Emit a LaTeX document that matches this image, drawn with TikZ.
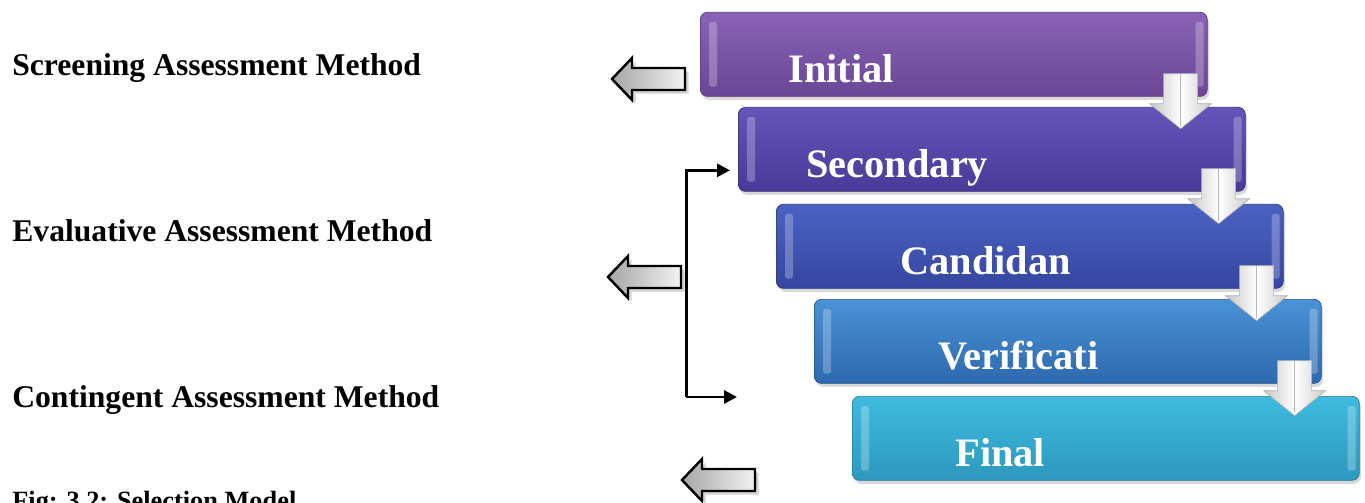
\documentclass[tikz,border=0pt]{standalone}
\usepackage{fontspec}
\setmainfont{Liberation Serif}
\usepackage{tikz}
\usetikzlibrary{arrows.meta,shadows}
\definecolor{initop}{HTML}{8A63B6}
\definecolor{inibot}{HTML}{6A4695}
\definecolor{sectop}{HTML}{6654BA}
\definecolor{secbot}{HTML}{493A98}
\definecolor{cantop}{HTML}{4B62C2}
\definecolor{canbot}{HTML}{3646A0}
\definecolor{vertop}{HTML}{4A92D6}
\definecolor{verbot}{HTML}{2E69AE}
\definecolor{fintop}{HTML}{3EBBDE}
\definecolor{finbot}{HTML}{2D98BE}

\begin{document}
\begin{tikzpicture}[x=0.02cm, y=-0.02cm,
  stage/.style={anchor=north west, rounded corners=4pt, minimum width=10.14cm,
                minimum height=1.68cm, text width=10.14cm, align=left, inner xsep=0pt,
                inner ysep=0pt, text height=1.12cm, text depth=0pt, text=white,
                font=\fontsize{23}{27}\selectfont\bfseries,
                drop shadow={shadow xshift=1pt, shadow yshift=-2pt, opacity=.3}},
  method/.style={anchor=base west, inner sep=0pt, font=\fontsize{18}{22}\selectfont\bfseries},
  gloss/.style={fill=white, opacity=.25, rounded corners=1pt},
  leftarr/.style={draw=black, line width=1.4pt, left color=gray!70, right color=gray!10,
                  drop shadow={shadow xshift=2pt, shadow yshift=-2pt, opacity=.35}},
  downarr/.style={draw=gray!60, left color=gray!45, right color=gray!40, middle color=white},
  brk/.style={line width=1.7pt, -{Triangle[length=2.6mm, width=2.6mm]}}]
  \useasboundingbox (0,0) rectangle (1365,503);

  % left column
  \node[method] (scr) at (12,76) {Screening Assessment Method};
  \node[method] (eva) at (12,241) {Evaluative Assessment Method};
  \node[method] (con) at (12,407) {Contingent Assessment Method};
  \node[method, font=\fontsize{15}{18}\selectfont\bfseries] (cap) at (12,509)
    {Fig: 3.2: Selection Model};

  % stages
  \node[stage, top color=initop, bottom color=inibot, draw=inibot!80!black] (ini) at (700,12)
    {\hspace*{1.76cm}Initial};
  \node[stage, top color=sectop, bottom color=secbot, draw=secbot!80!black] (sec) at (738,107)
    {\hspace*{1.36cm}Secondary};
  \node[stage, top color=cantop, bottom color=canbot, draw=canbot!80!black] (can) at (776,204)
    {\hspace*{2.48cm}Candidan};
  \node[stage, top color=vertop, bottom color=verbot, draw=verbot!80!black] (ver) at (814,299)
    {\hspace*{2.48cm}Verificati};
  \node[stage, top color=fintop, bottom color=finbot, draw=finbot!80!black] (fin) at (852,396)
    {\hspace*{2.06cm}Final};

  \foreach \b in {ini,sec,can,ver,fin} {
    \fill[gloss] ([shift={(9,10)}]\b.north west) rectangle ([shift={(17,-10)}]\b.south west);
    \fill[gloss] ([shift={(-12,10)}]\b.north east) rectangle ([shift={(-4,-10)}]\b.south east);
  }

  % down arrows between stages
  \foreach \b in {ini,sec,can,ver} {
    \path ([shift={(-27,-23)}]\b.south east) coordinate (t);
    \draw[downarr] (t) ++(-17,0) -- ++(34,0) -- ++(0,30) -- ++(14,0) -- ++(-31,25)
      -- ++(-31,-25) -- ++(14,0) -- cycle;
    \draw[gray!55, line width=0.6pt] (t) -- ++(0,52);
  }

  % block arrows to the left
  \foreach \x/\y in {612/79, 608/277, 682/480}
    \draw[leftarr] (\x,\y) -- ++(20,-21) -- ++(0,10) -- ++(53,0) -- ++(0,22)
      -- ++(-53,0) -- ++(0,10) -- cycle;

  % bracket
  \coordinate (brk) at (686,397);
  \coordinate (cnt) at (737,397);
  \draw[brk] (brk) |- ([shift={(-8,21)}]sec.west);
  \draw[brk] (brk) -- (cnt);
\end{tikzpicture}
\end{document}
